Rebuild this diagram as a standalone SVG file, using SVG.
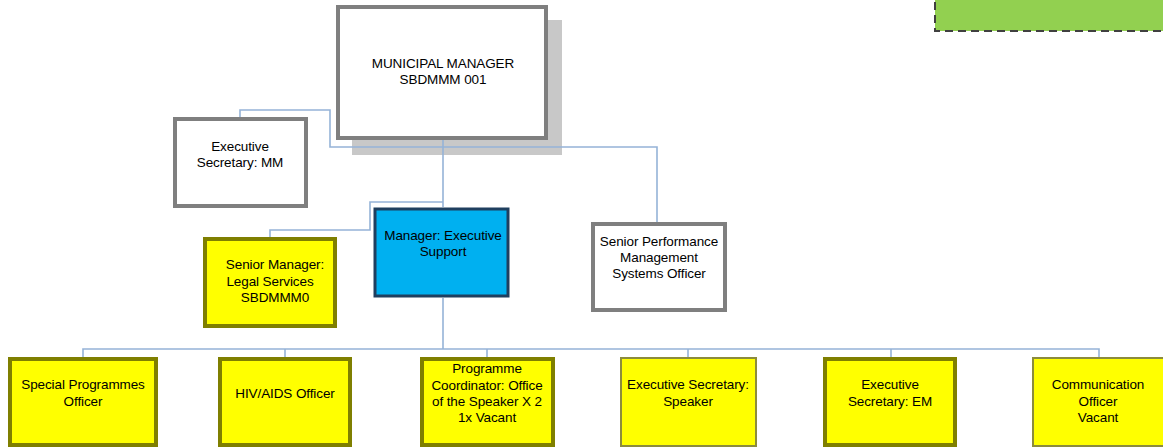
<svg xmlns="http://www.w3.org/2000/svg" width="1163" height="447" viewBox="0 0 1163 447">
<style>
.t{font-family:"Liberation Sans",Arial,sans-serif;font-size:13.5px;fill:#000;text-anchor:middle;letter-spacing:-0.1px}
.gray{fill:#fff;stroke:#7f7f7f;stroke-width:4}
.yel{fill:#ffff00;stroke:#7f7f00;stroke-width:4}
.yelt{fill:#ffff00;stroke:#8c8c3c;stroke-width:2}
.c{fill:none;stroke:#95b3d7;stroke-width:1.6}
</style>
<rect x="935" y="-4" width="232" height="35" fill="#92d050" stroke="#404040" stroke-width="2" stroke-dasharray="8,5"/>
<rect x="352" y="20" width="210" height="135" fill="#c8c8c8"/>
<g id="connectors">
<polyline class="c" points="240,118 240,110 330,110 330,147 657,147 657,222"/>
<polyline class="c" points="443,140 443,207"/>
<polyline class="c" points="443,202 370,202 370,230 270,230 270,237"/>
<polyline class="c" points="443,298 443,349"/>
<polyline class="c" points="83,357 83,349 1099,349 1099,357"/>
<line class="c" x1="285" y1="349" x2="285" y2="357"/>
<line class="c" x1="487" y1="349" x2="487" y2="357"/>
<line class="c" x1="688" y1="349" x2="688" y2="357"/>
<line class="c" x1="891" y1="349" x2="891" y2="357"/>
</g>
<g id="mm">
<rect class="gray" x="338" y="7" width="208" height="131"/>
<text class="t" x="443" y="68">MUNICIPAL MANAGER</text>
<text class="t" x="443" y="84">SBDMMM 001</text>
</g>
<g id="exec-sec-mm">
<rect class="gray" x="175" y="119" width="131" height="87"/>
<text class="t" x="240" y="151">Executive</text>
<text class="t" x="240" y="167">Secretary: MM</text>
</g>
<g id="mgr-exec-support">
<rect x="375" y="209" width="133" height="87" fill="#00b0f0" stroke="#1f3f5f" stroke-width="3"/>
<text class="t" x="443" y="240">Manager: Executive</text>
<text class="t" x="443" y="256">Support</text>
</g>
<g id="sm-legal">
<rect class="yel" x="205" y="239" width="130" height="87"/>
<text class="t" x="275" y="269">Senior Manager:</text>
<text class="t" x="270" y="286">Legal Services</text>
<text class="t" x="275" y="302">SBDMMM0</text>
</g>
<g id="perf">
<rect class="gray" x="593" y="224" width="132" height="86"/>
<text class="t" x="659" y="246">Senior Performance</text>
<text class="t" x="659" y="262">Management</text>
<text class="t" x="659" y="278">Systems Officer</text>
</g>
<g id="special">
<rect class="yel" x="10" y="359" width="146" height="86"/>
<text class="t" x="83" y="389">Special Programmes</text>
<text class="t" x="83" y="406">Officer</text>
</g>
<g id="hiv">
<rect class="yel" x="220" y="359" width="130" height="86"/>
<text class="t" x="285" y="398">HIV/AIDS Officer</text>
</g>
<g id="prog">
<rect class="yel" x="422" y="359" width="131" height="86"/>
<text class="t" x="487" y="373">Programme</text>
<text class="t" x="487" y="390">Coordinator: Office</text>
<text class="t" x="487" y="406">of the Speaker X 2</text>
<text class="t" x="487" y="422">1x Vacant</text>
</g>
<g id="es-speaker">
<rect class="yelt" x="621" y="358" width="135" height="88"/>
<text class="t" x="688" y="389">Executive Secretary:</text>
<text class="t" x="688" y="406">Speaker</text>
</g>
<g id="es-em">
<rect class="yel" x="825" y="359" width="130" height="86"/>
<text class="t" x="890" y="389">Executive</text>
<text class="t" x="890" y="406">Secretary: EM</text>
</g>
<g id="comm">
<rect class="yelt" x="1033" y="358" width="134" height="88"/>
<text class="t" x="1098" y="389">Communication</text>
<text class="t" x="1098" y="406">Officer</text>
<text class="t" x="1098" y="422">Vacant</text>
</g>
</svg>
